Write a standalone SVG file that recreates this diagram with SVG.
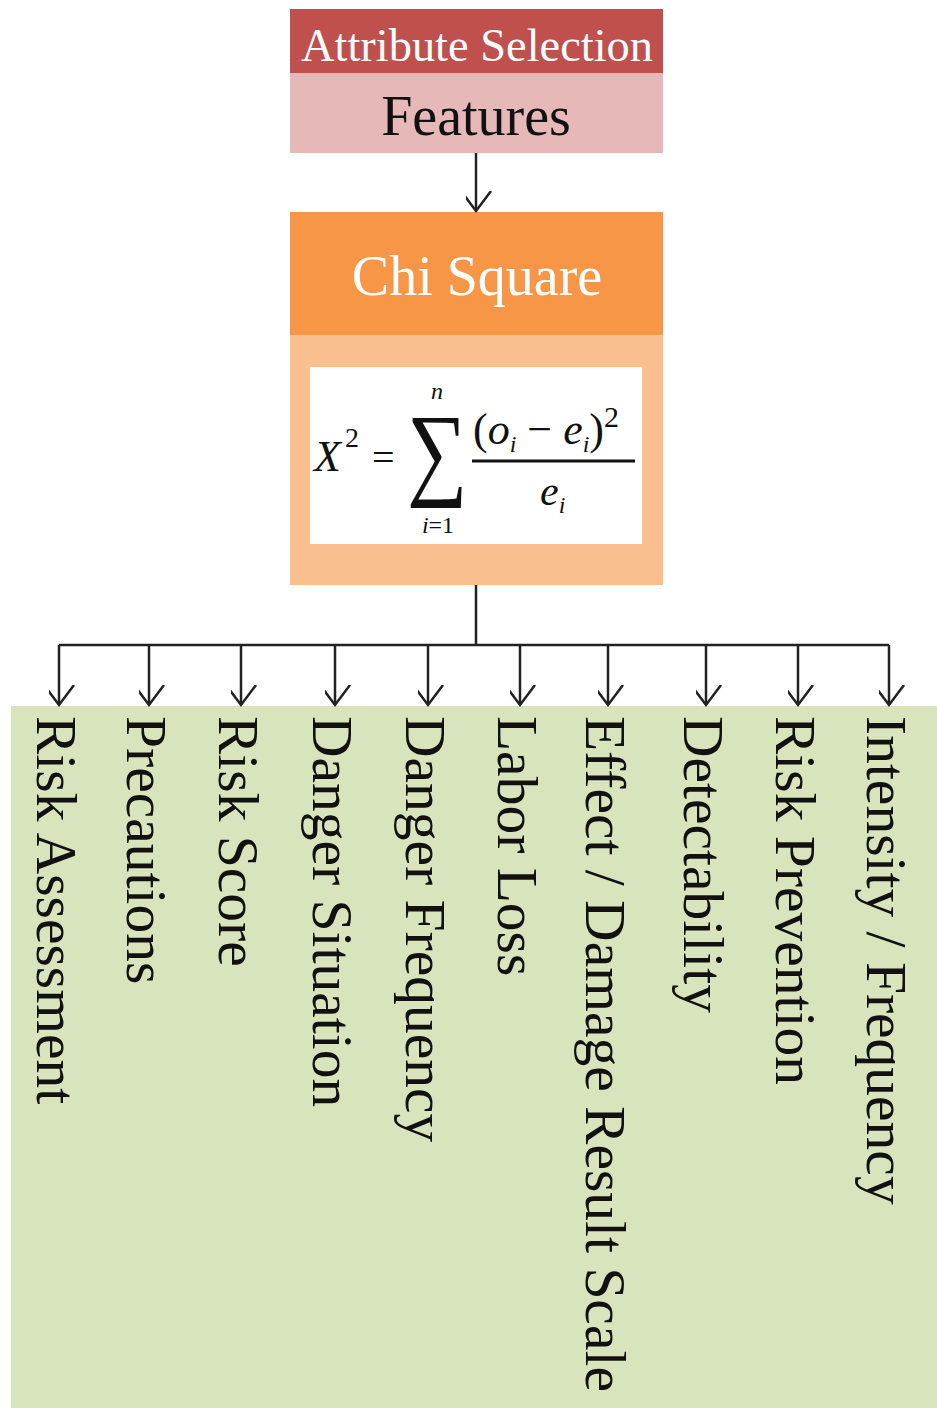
<svg xmlns="http://www.w3.org/2000/svg" width="937" height="1408" viewBox="0 0 937 1408">
<defs>
<marker id="arr" markerUnits="userSpaceOnUse" markerWidth="40" markerHeight="40" viewBox="-20 -30 40 40" refX="0" refY="0" orient="auto-start-reverse">
<path d="M-20,-15 L0,0 L-20,15" fill="none" stroke="#222" stroke-width="2.5"/>
</marker>
<style>
.lbl{font-family:"Liberation Serif","Times New Roman",serif;font-size:57.5px;fill:#111}
.conn{fill:none;stroke:#222;stroke-width:2.5}
.m{font-family:"Liberation Serif","Times New Roman",serif;fill:#111}
</style>
</defs>
<rect width="937" height="1408" fill="#fff"/>
<g id="attribute-selection">
<rect x="290" y="9" width="373" height="64" fill="#c0504d"/>
<text x="477" y="61" text-anchor="middle" font-family="Liberation Serif, serif" font-size="46" fill="#fff" textLength="352" lengthAdjust="spacingAndGlyphs">Attribute Selection</text>
<rect x="290" y="73" width="373" height="80" fill="#e6b8b7"/>
<text x="476" y="135" text-anchor="middle" font-family="Liberation Serif, serif" font-size="56" fill="#111">Features</text>
</g>
<g id="chi-square">
<rect x="290" y="212" width="373" height="123" fill="#f79646"/>
<text x="477" y="295" text-anchor="middle" font-family="Liberation Serif, serif" font-size="56" fill="#fff">Chi Square</text>
<rect x="290" y="335" width="373" height="250" fill="#fabf8f"/>
<rect x="310" y="367" width="332" height="177" fill="#fff"/>
<g id="formula">
<text class="m" x="314" y="471" font-size="44" font-style="italic">X</text>
<text class="m" x="345" y="447" font-size="28">2</text>
<text class="m" x="372" y="471" font-size="40">=</text>
<text class="m" font-size="100" text-anchor="middle" transform="translate(437,486) scale(0.85,1.04)">∑</text>
<text class="m" x="437" y="399" font-size="24" font-style="italic" text-anchor="middle">n</text>
<text class="m" x="438" y="533" font-size="24" text-anchor="middle"><tspan font-style="italic">i</tspan>=1</text>
<text class="m" x="473" y="444" font-size="44">(<tspan font-style="italic">o</tspan><tspan font-size="24" font-style="italic" dy="8">i</tspan><tspan dy="-8"> − </tspan><tspan font-style="italic">e</tspan><tspan font-size="24" font-style="italic" dy="8">i</tspan><tspan dy="-8">)</tspan><tspan font-size="30" dy="-17">2</tspan></text>
<line x1="472" y1="461" x2="635" y2="461" stroke="#111" stroke-width="3"/>
<text class="m" x="540" y="505" font-size="42" font-style="italic">e<tspan font-size="24" dy="8">i</tspan></text>
</g>
</g>
<g id="features-panel">
<rect x="11" y="706" width="926" height="702" fill="#d7e4bc"/>
</g>
<g id="connectors">
<line class="conn" x1="476" y1="153" x2="476" y2="211" marker-end="url(#arr)"/>
<path class="conn" d="M476,585 V645 M59,645 H889"/>
<line class="conn" x1="59" y1="645" x2="59" y2="705" marker-end="url(#arr)"/>
<line class="conn" x1="149" y1="645" x2="149" y2="705" marker-end="url(#arr)"/>
<line class="conn" x1="241" y1="645" x2="241" y2="705" marker-end="url(#arr)"/>
<line class="conn" x1="335" y1="645" x2="335" y2="705" marker-end="url(#arr)"/>
<line class="conn" x1="428" y1="645" x2="428" y2="705" marker-end="url(#arr)"/>
<line class="conn" x1="520" y1="645" x2="520" y2="705" marker-end="url(#arr)"/>
<line class="conn" x1="608" y1="645" x2="608" y2="705" marker-end="url(#arr)"/>
<line class="conn" x1="706" y1="645" x2="706" y2="705" marker-end="url(#arr)"/>
<line class="conn" x1="798" y1="645" x2="798" y2="705" marker-end="url(#arr)"/>
<line class="conn" x1="889" y1="645" x2="889" y2="705" marker-end="url(#arr)"/>
</g>
<g id="f1"><text class="lbl" transform="translate(37,716) rotate(90)">Risk Assessment</text></g>
<g id="f2"><text class="lbl" transform="translate(127,716) rotate(90)">Precautions</text></g>
<g id="f3"><text class="lbl" transform="translate(219,716) rotate(90)">Risk Score</text></g>
<g id="f4"><text class="lbl" transform="translate(313,716) rotate(90)">Danger Situation</text></g>
<g id="f5"><text class="lbl" transform="translate(406,716) rotate(90)">Danger Frequency</text></g>
<g id="f6"><text class="lbl" transform="translate(498,716) rotate(90)">Labor Loss</text></g>
<g id="f7"><text class="lbl" transform="translate(586,716) rotate(90)">Effect / Damage Result Scale</text></g>
<g id="f8"><text class="lbl" transform="translate(684,716) rotate(90)">Detectability</text></g>
<g id="f9"><text class="lbl" transform="translate(776,716) rotate(90)">Risk Prevention</text></g>
<g id="f10"><text class="lbl" transform="translate(867,716) rotate(90)">Intensity / Frequency</text></g>
</svg>
